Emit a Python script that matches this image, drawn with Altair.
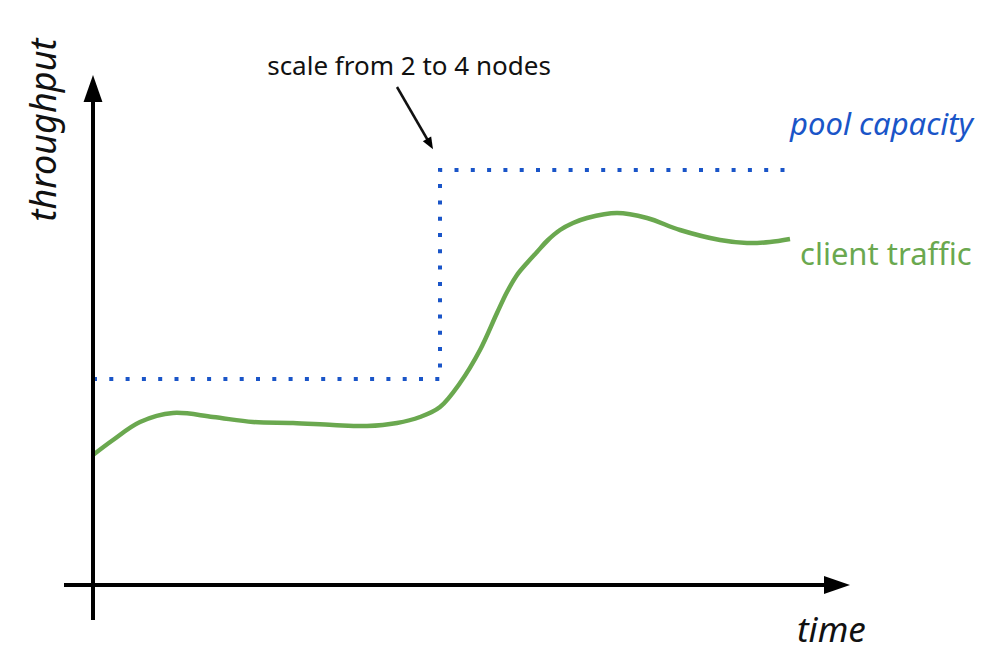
import altair as alt
import pandas as pd

# ---- data (time, throughput) ----
traffic_time = [0, 20, 47, 80, 120, 160, 200, 240, 274, 304, 327, 347, 367, 387,
                404, 414, 424, 434, 444, 455, 467, 480, 494, 524, 554, 587, 627, 654, 677, 697]
traffic_tput = [130, 145, 163, 172, 168, 163, 162, 160, 159, 162, 168, 178, 202, 235,
                272, 293, 310, 322, 333, 345, 355, 362, 367, 372, 367, 355, 345, 342, 343, 346]

capacity_time = [0, 347, 347, 697]
capacity_tput = [206, 206, 415, 415]

# axes (drawn as arrows)
yaxis_time = [0, 0]
yaxis_tput = [-35, 485]
xaxis_time = [-29, 737]
xaxis_tput = [0, 0]

# arrow heads: position, shape, size, angle
head_time = [0, 744, 337]
head_tput = [496.5, 0, 441]
head_shape = ["M0,-1L0.7,1L-0.7,1Z", "M1,0L-1,-0.7L-1,0.7Z", "M0,-1L0.8,1L-0.8,1Z"]
head_size = [729, 676, 144]
head_angle = [0, 0, 150]

# annotation arrow line
note_time = [304, 337]
note_tput = [498, 441]

# labels
label_text = ["scale from 2 to 4 nodes", "pool capacity", "client traffic", "throughput", "time"]
label_time = [316, 880, 707, -37, 704]
label_tput = [510, 450, 320, 455, -57]
label_color = ["#111111", "#1a55c8", "#6aa84f", "#111111", "#111111"]
label_size = [26, 31, 31, 36, 35]
label_style = ["normal", "italic", "normal", "italic", "italic"]
label_align = ["center", "right", "left", "center", "left"]
label_angle = [0, 0, 0, 270, 0]

FONT = "Noto Sans"
xs = alt.Scale(domain=[-85, 899], nice=False, zero=False)
ys = alt.Scale(domain=[-77, 577], nice=False, zero=False)


def xy(order=False):
    enc = dict(
        x=alt.X("t:Q", scale=xs, axis=None),
        y=alt.Y("v:Q", scale=ys, axis=None),
    )
    if order:
        enc["order"] = alt.Order("i:Q")
    return enc


def frame(ts, vs):
    return pd.DataFrame({"t": ts, "v": vs, "i": list(range(len(ts)))})


traffic = alt.Chart(frame(traffic_time, traffic_tput)).mark_line(
    color="#6aa84f", strokeWidth=4.5, interpolate="catmull-rom"
).encode(**xy(True))

capacity = alt.Chart(frame(capacity_time, capacity_tput)).mark_line(
    color="#1a55c8", strokeWidth=4, strokeDash=[4, 12.3], strokeCap="butt"
).encode(**xy(True))

yaxis = alt.Chart(frame(yaxis_time, yaxis_tput)).mark_line(
    color="black", strokeWidth=4
).encode(**xy(True))

xaxis = alt.Chart(frame(xaxis_time, xaxis_tput)).mark_line(
    color="black", strokeWidth=4
).encode(**xy(True))

note = alt.Chart(frame(note_time, note_tput)).mark_line(
    color="#111111", strokeWidth=2.5
).encode(**xy(True))

layers = [traffic, capacity, yaxis, xaxis, note]

for t, v, shp, sz, ang in zip(head_time, head_tput, head_shape, head_size, head_angle):
    layers.append(
        alt.Chart(frame([t], [v])).mark_point(
            shape=shp, size=sz, angle=ang, filled=True, color="black", opacity=1, strokeWidth=0
        ).encode(**xy())
    )

for txt, t, v, col, fs, st, al, ang in zip(label_text, label_time, label_tput, label_color,
                                            label_size, label_style, label_align, label_angle):
    layers.append(
        alt.Chart(pd.DataFrame({"t": [t], "v": [v], "txt": [txt]})).mark_text(
            font=FONT, fontSize=fs, fontStyle=st, color=col, align=al,
            baseline="alphabetic", angle=ang
        ).encode(text="txt:N", **xy())
    )

chart = alt.layer(*layers).properties(
    width=984, height=654, autosize="none", padding=0
).configure_view(stroke=None)

chart.save("out.html", embed_options={"renderer": "svg", "actions": False})
